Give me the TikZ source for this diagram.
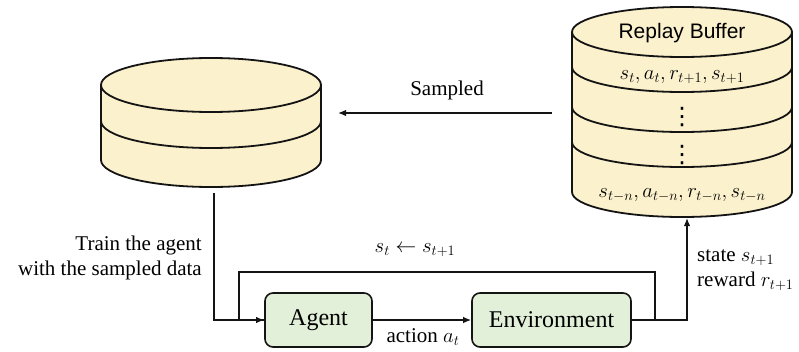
\documentclass[tikz,border=0pt]{standalone}
\usepackage{fontspec}
\setmainfont{Liberation Serif}
\setsansfont{Liberation Sans}
\newfontfamily\symfont{DejaVu Sans}
\usetikzlibrary{arrows.meta}

\definecolor{dbfill}{RGB}{251,241,205}
\definecolor{boxfill}{RGB}{226,240,217}
\definecolor{ink}{RGB}{20,20,20}

% cylinder: #1 centre x, #2 top centre y, #3 bottom centre y, #4 x radius, #5 y radius, #6 band centres
\newcommand{\dbcyl}[6]{%
  \fill[dbfill] (#1-#4,#2) -- (#1-#4,#3) arc[start angle=180,end angle=0,x radius=#4,y radius=#5]
      -- (#1+#4,#2) arc[start angle=360,end angle=180,x radius=#4,y radius=#5] -- cycle;
  \draw[cyl] (#1-#4,#2) -- (#1-#4,#3) arc[start angle=180,end angle=0,x radius=#4,y radius=#5]
      -- (#1+#4,#2);
  \draw[cyl] (#1,#2) ellipse[x radius=#4,y radius=#5];
  \foreach \by in {#6}{
    \draw[cyl] (#1-#4,\by) arc[start angle=180,end angle=0,x radius=#4,y radius=#5];
  }%
}

\begin{document}
\begin{tikzpicture}[x=1pt,y=-1pt,
  cyl/.style={draw=ink,line width=1.8pt},
  conn/.style={draw=ink,line width=1.4pt},
  arr/.style={conn,-{Latex[length=8pt,width=6.5pt]}},
  procbox/.style={draw=ink,line width=1.6pt,fill=boxfill,rounded corners=8pt,
    minimum width=107pt,minimum height=54pt,inner sep=0pt,
    font=\fontsize{24}{28}\selectfont},
  lbl/.style={font=\fontsize{21}{25}\selectfont,inner sep=0pt},
  row/.style={font=\fontsize{22}{26}\selectfont,inner sep=0pt},
  dots/.style={font=\symfont\fontsize{24}{28}\selectfont,inner sep=0pt}]
\useasboundingbox (0,0) rectangle (799,351);

% sampled-data store
\dbcyl{211}{85}{160}{110}{27}{121}

% replay buffer
\dbcyl{682}{32}{192}{110}{25}{67,107,142}
\node[font=\sffamily\fontsize{21}{25}\selectfont,inner sep=0pt] (rbtitle) at (682,33) {Replay Buffer};
\node[row] (r1) at (682,77) {$s_t,a_t,r_{t+1},s_{t+1}$};
\node[dots] (r2) at (682,117) {⋮};
\node[dots] (r3) at (682,155) {⋮};
\node[row] (r4) at (682,195) {$s_{t-n},a_{t-n},r_{t-n},s_{t-n}$};

% agent and environment
\node[procbox] (agent) at (318.5,320) {Agent};
\node[procbox,minimum width=159pt] (env) at (551.5,320) {Environment};

% connector end points
\coordinate (sampFrom) at (552,113);
\coordinate (sampTo) at (338,113);
\coordinate (trainTop) at (214,193);
\coordinate (trainCorner) at (214,320);
\coordinate (loopR) at (655,320);
\coordinate (loopRT) at (655,272);
\coordinate (loopLT) at (239,272);
\coordinate (loopL) at (239,320);
\coordinate (outCorner) at (687,320);
\coordinate (rbIn) at (687,218);

% connectors
\draw[arr] (sampFrom) -- (sampTo);
\draw[arr] (trainTop) -- (trainCorner) -- (agent.west);
\draw[arr] (agent.east) -- (env.west);
\draw[conn] (env.east) -- (loopR) -- (loopRT) -- (loopLT) -- (loopL) -- (agent.west);
\draw[arr] (loopR) -- (outCorner) -- (rbIn);

% labels
\node[lbl] (lsampled) at (447,90) {Sampled};
\node[lbl,anchor=east,align=right] (ltrain) at (202,258) {Train the agent\\with the sampled data};
\node[lbl] (lupdate) at (415,250) {$s_t\leftarrow s_{t+1}$};
\node[lbl] (laction) at (423,337) {action $a_t$};
\node[lbl,anchor=west,align=left] (lstate) at (697,270) {state $s_{t+1}$\\reward $r_{t+1}$};
\end{tikzpicture}
\end{document}
